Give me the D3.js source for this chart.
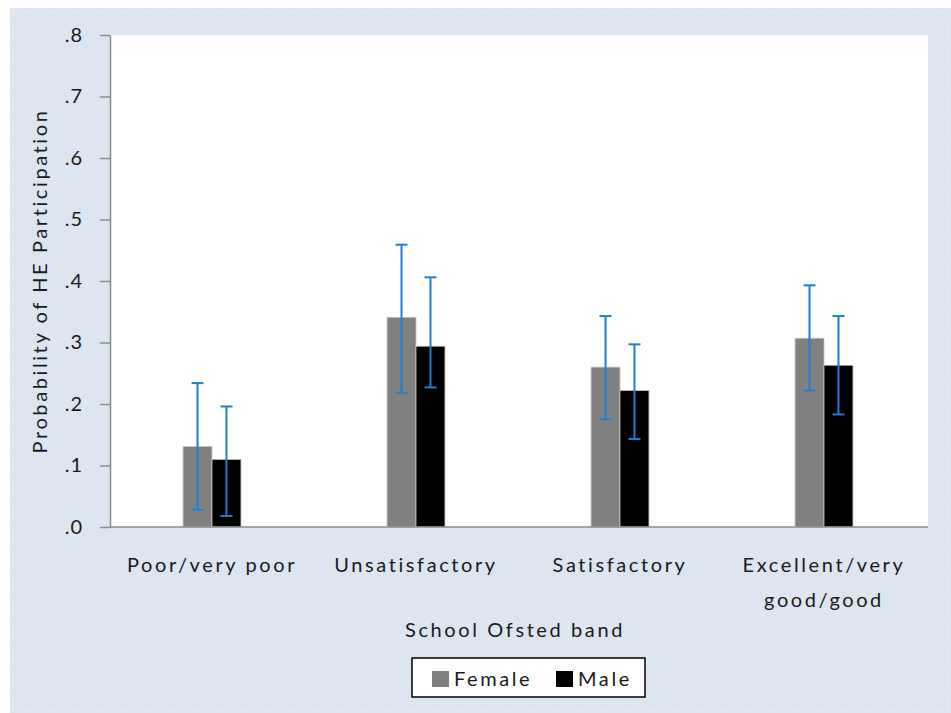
<!DOCTYPE html>
<html>
<head>
<meta charset="utf-8">
<script src="https://cdn.jsdelivr.net/npm/d3@7"></script>
<style>
  html, body { margin: 0; padding: 0; background: #ffffff; }
  svg { display: block; }
  text { font-family: Lato, "Open Sans", sans-serif; fill: #1a1a1a; }
  .lbl { letter-spacing: 2.6px; }
</style>
</head>
<body>
<svg id="chart" width="951" height="713"></svg>
<script>
// Ofsted bands along the x axis
const categories = ["Poor/very poor", "Unsatisfactory", "Satisfactory", "Excellent/very good/good"];
const categoryLines = [["Poor/very poor"], ["Unsatisfactory"], ["Satisfactory"], ["Excellent/very", "good/good"]];
const seriesNames = ["Female", "Male"];

// Predicted probability of HE participation with confidence intervals
const female   = [0.131, 0.341, 0.260, 0.307];
const femaleLo = [0.028, 0.218, 0.175, 0.222];
const femaleHi = [0.234, 0.459, 0.343, 0.393];
const male     = [0.110, 0.294, 0.222, 0.263];
const maleLo   = [0.018, 0.227, 0.143, 0.183];
const maleHi   = [0.196, 0.406, 0.297, 0.343];

const yTicks = [0, 0.1, 0.2, 0.3, 0.4, 0.5, 0.6, 0.7, 0.8];

const svg = d3.select("#chart");
const W = 951, H = 713;
const plot = { left: 110, right: 928, top: 35, bottom: 527 };

// background panel
svg.append("rect").attr("x", 10).attr("y", 8).attr("width", W - 10).attr("height", H - 8)
  .attr("fill", "#dce5f0");
svg.append("rect").attr("x", 12.5).attr("y", 11.5).attr("width", W - 16).attr("height", H - 14)
  .attr("fill", "none").attr("stroke", "#eef2f8").attr("stroke-width", 1).attr("stroke-dasharray", "2,4");

// plot area
svg.append("rect").attr("x", plot.left).attr("y", plot.top)
  .attr("width", plot.right - plot.left).attr("height", plot.bottom - plot.top)
  .attr("fill", "#ffffff");

const x = d3.scaleBand().domain(categories).range([plot.left, plot.left + 816])
  .paddingInner(0.716).paddingOuter(0.358);
const x1 = d3.scaleBand().domain(seriesNames).range([0, x.bandwidth()]);
const y = d3.scaleLinear().domain([0, 0.8]).range([plot.bottom, plot.top]);

const colors = { Female: "#808080", Male: "#000000" };

const rows = categories.map((c, i) => ({
  cat: c,
  vals: [
    { s: "Female", v: female[i], lo: femaleLo[i], hi: femaleHi[i] },
    { s: "Male", v: male[i], lo: maleLo[i], hi: maleHi[i] }
  ]
}));

const groups = svg.append("g").selectAll("g").data(rows).join("g")
  .attr("transform", d => `translate(${x(d.cat)},0)`);

groups.selectAll("rect").data(d => d.vals).join("rect")
  .attr("x", d => x1(d.s))
  .attr("y", d => y(d.v))
  .attr("width", x1.bandwidth())
  .attr("height", d => y(0) - y(d.v))
  .attr("fill", d => colors[d.s])
  .attr("stroke", "#c8c8c8").attr("stroke-width", 0.8);

// error bars
const eb = groups.selectAll("g.err").data(d => d.vals).join("g").attr("class", "err")
  .attr("transform", d => `translate(${x1(d.s) + x1.bandwidth() / 2},0)`);
const blue = "#1f7fd2";
eb.append("line").attr("x1", 0).attr("x2", 0)
  .attr("y1", d => y(d.hi)).attr("y2", d => y(d.lo))
  .attr("stroke", blue).attr("stroke-width", 2);
eb.append("line").attr("x1", -6).attr("x2", 6)
  .attr("y1", d => y(d.hi)).attr("y2", d => y(d.hi))
  .attr("stroke", blue).attr("stroke-width", 2);
eb.append("line").attr("x1", -6).attr("x2", 6)
  .attr("y1", d => y(d.lo)).attr("y2", d => y(d.lo))
  .attr("stroke", blue).attr("stroke-width", 2);

// y axis
const fmt = d => d3.format(".1f")(d).replace(/^0/, "");
const yAxis = svg.append("g").attr("transform", `translate(${plot.left},0)`)
  .call(d3.axisLeft(y).tickValues(yTicks).tickFormat(fmt).tickSize(10).tickPadding(17).tickSizeOuter(0));
yAxis.select(".domain").attr("stroke", "#8c8c8c").attr("stroke-width", 1.5);
yAxis.selectAll(".tick line").attr("stroke", "#8c8c8c").attr("stroke-width", 1.5);
yAxis.selectAll(".tick text").style("font-size", "20px").style("font-family", "Lato, sans-serif")
  .style("letter-spacing", "1px").attr("fill", "#1a1a1a");

// x axis baseline
svg.append("line").attr("x1", plot.left).attr("x2", plot.right)
  .attr("y1", plot.bottom).attr("y2", plot.bottom)
  .attr("stroke", "#8c8c8c").attr("stroke-width", 1.5);

// x tick labels
const xl = svg.append("g").selectAll("text").data(categories).join("text")
  .attr("class", "lbl")
  .attr("x", d => x(d) + x.bandwidth() / 2)
  .attr("y", 572)
  .attr("text-anchor", "middle")
  .style("font-size", "20px");
xl.each(function (d, i) {
  const t = d3.select(this);
  categoryLines[i].forEach((line, j) => {
    t.append("tspan").attr("x", x(d) + x.bandwidth() / 2).attr("dy", j === 0 ? 0 : 35).text(line);
  });
});

// axis titles
svg.append("text").attr("class", "lbl").attr("x", 515).attr("y", 637).attr("text-anchor", "middle")
  .style("font-size", "20px").text("School Ofsted band");
svg.append("text").attr("class", "lbl")
  .attr("transform", `translate(47,${(plot.top + plot.bottom) / 2}) rotate(-90)`)
  .attr("text-anchor", "middle").style("font-size", "20px").text("Probability of HE Participation");

// legend
const lg = svg.append("g");
lg.append("rect").attr("x", 412).attr("y", 658).attr("width", 233).attr("height", 39)
  .attr("fill", "#ffffff").attr("stroke", "#000000").attr("stroke-width", 1.5);
const items = [{ s: "Female", x: 432 }, { s: "Male", x: 556 }];
items.forEach(it => {
  lg.append("rect").attr("x", it.x).attr("y", 671).attr("width", 17).attr("height", 16).attr("fill", colors[it.s]);
  lg.append("text").attr("class", "lbl").attr("x", it.x + 22).attr("y", 686).style("font-size", "20px").text(it.s);
});
</script>
</body>
</html>
